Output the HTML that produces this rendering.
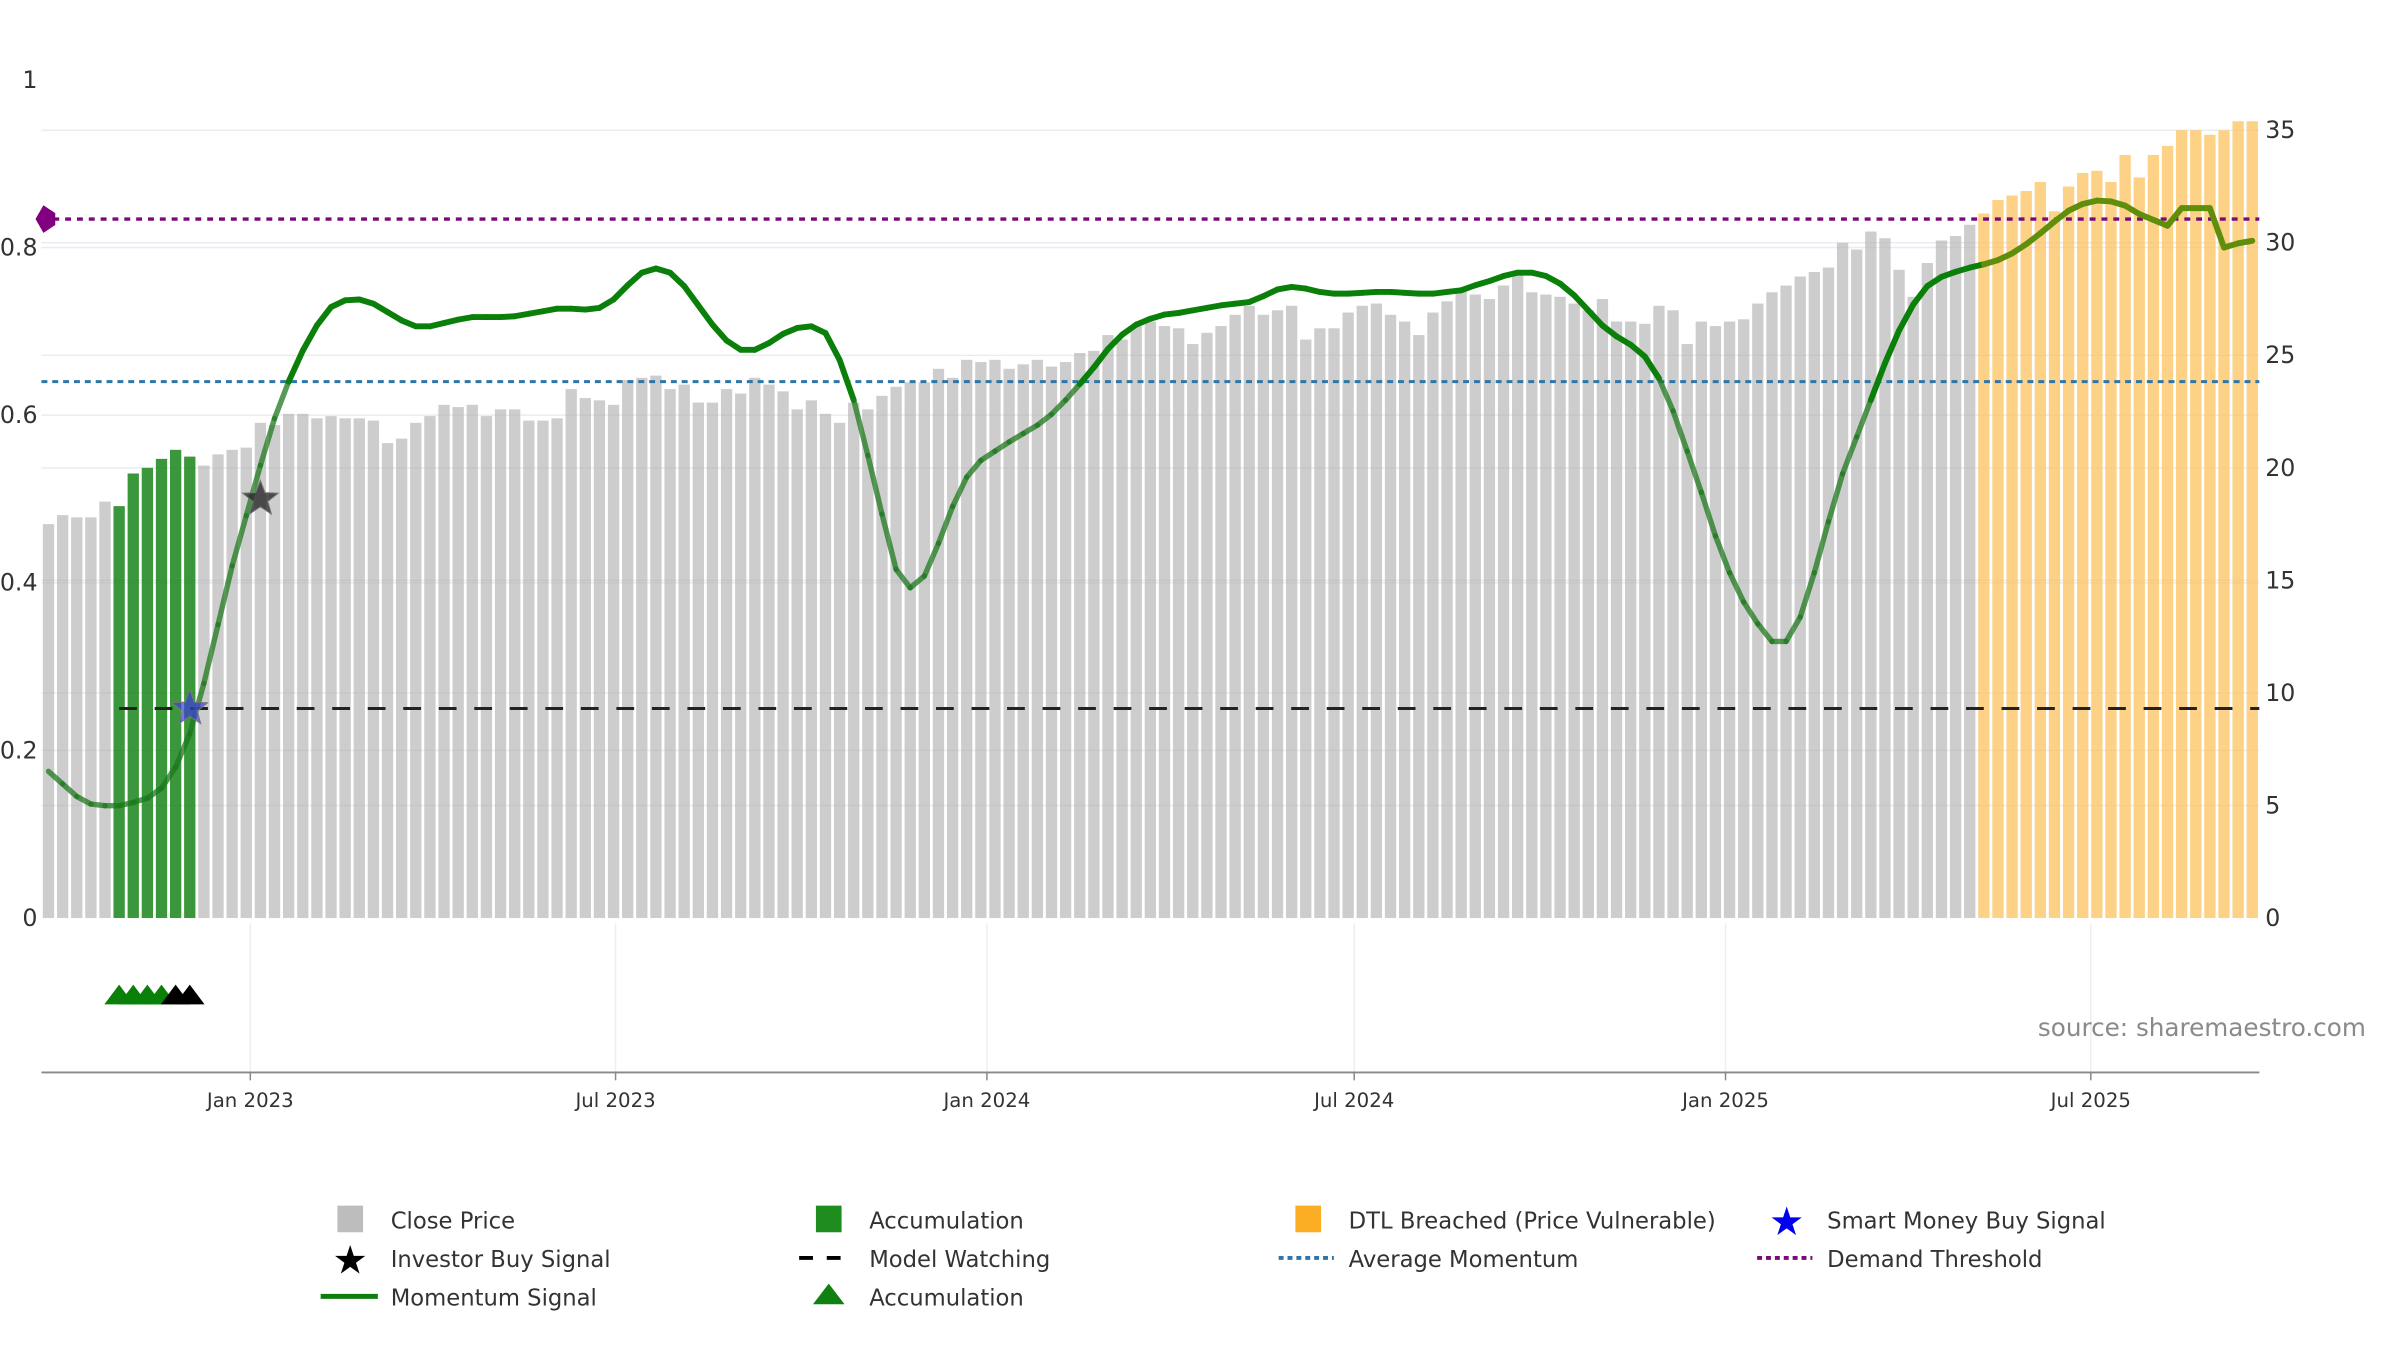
<!DOCTYPE html>
<html><head><meta charset="utf-8"><style>
html,body{margin:0;padding:0;background:#fff;}
svg{display:block;font-family:"DejaVu Sans","Liberation Sans",sans-serif;}
</style></head><body>
<svg id="chart" width="2400" height="1350" viewBox="0 0 2400 1350" xmlns="http://www.w3.org/2000/svg">
<g transform="scale(0.9866)">
<g id="grid"></g>
<g id="bars"></g>
<g id="lines"></g>
<g id="momentum"></g>
<g id="markers"></g>
<g id="axes"></g>
<text x="2398" y="1050" text-anchor="end" font-size="25" fill="#8a8a8a">source: sharemaestro.com</text>
<g id="legend">
 <rect x="342" y="1222" width="26" height="27" fill="#bdbdbd"/>
 <text x="396" y="1245" font-size="23" fill="#333">Close Price</text>
 <rect x="827" y="1222" width="26" height="27" fill="#1f8c1f"/>
 <text x="881" y="1245" font-size="23" fill="#333">Accumulation</text>
 <rect x="1313" y="1222" width="26" height="27" fill="#fbad23"/>
 <text x="1367" y="1245" font-size="23" fill="#333">DTL Breached (Price Vulnerable)</text>
 <text x="1811" y="1252" font-size="40" fill="#0000ee" text-anchor="middle">★</text>
 <text x="1852" y="1245" font-size="23" fill="#333">Smart Money Buy Signal</text>
 <text x="355" y="1291" font-size="40" fill="#000" text-anchor="middle">★</text>
 <text x="396" y="1284" font-size="23" fill="#333">Investor Buy Signal</text>
 <line x1="810" y1="1275" x2="866" y2="1275" stroke="#000" stroke-width="4" stroke-dasharray="14,14"/>
 <text x="881" y="1284" font-size="23" fill="#333">Model Watching</text>
 <line x1="1296" y1="1275" x2="1352" y2="1275" stroke="#2f76a8" stroke-width="4" stroke-dasharray="5,4"/>
 <text x="1367" y="1284" font-size="23" fill="#333">Average Momentum</text>
 <line x1="1781" y1="1275" x2="1837" y2="1275" stroke="#7a0a7a" stroke-width="4" stroke-dasharray="5,4"/>
 <text x="1852" y="1284" font-size="23" fill="#333">Demand Threshold</text>
 <line x1="325" y1="1314" x2="383" y2="1314" stroke="#107c10" stroke-width="5"/>
 <text x="396" y="1323" font-size="23" fill="#333">Momentum Signal</text>
 <polygon points="840,1301 824,1322 856,1322" fill="#108010"/>
 <text x="881" y="1323" font-size="23" fill="#333">Accumulation</text>
</g>
</g>
</svg>
<script>
const prices = [17.5,17.9,17.8,17.8,18.5,18.3,19.75,20.0,20.4,20.8,20.5,20.1,20.6,20.8,20.9,22.0,21.9,22.4,22.4,22.2,22.3,22.2,22.2,22.1,21.1,21.3,22.0,22.3,22.8,22.7,22.8,22.3,22.6,22.6,22.1,22.1,22.2,23.5,23.1,23.0,22.8,23.9,24.0,24.1,23.5,23.7,22.9,22.9,23.5,23.3,24.0,23.7,23.4,22.6,23.0,22.4,22.0,22.9,22.6,23.2,23.6,23.8,23.8,24.4,24.0,24.8,24.7,24.8,24.4,24.6,24.8,24.5,24.7,25.1,25.2,25.9,25.7,26.3,26.5,26.3,26.2,25.5,26.0,26.3,26.8,27.2,26.8,27.0,27.2,25.7,26.2,26.2,26.9,27.2,27.3,26.8,26.5,25.9,26.9,27.4,27.9,27.7,27.5,28.1,28.6,27.8,27.7,27.6,27.3,27.0,27.5,26.5,26.5,26.4,27.2,27.0,25.5,26.5,26.3,26.5,26.6,27.3,27.8,28.1,28.5,28.7,28.9,30.0,29.7,30.5,30.2,28.8,27.6,29.1,30.1,30.3,30.8,31.3,31.9,32.1,32.3,32.7,31.4,32.5,33.1,33.2,32.7,33.9,32.9,33.9,34.3,35.0,35.0,34.8,35.0,35.4,35.4];
const momentum = [0.175,0.16,0.145,0.136,0.134,0.134,0.138,0.143,0.155,0.18,0.22,0.28,0.35,0.42,0.48,0.54,0.596,0.64,0.677,0.707,0.729,0.737,0.738,0.733,0.723,0.713,0.706,0.706,0.71,0.714,0.717,0.717,0.717,0.718,0.721,0.724,0.727,0.727,0.726,0.728,0.738,0.755,0.77,0.775,0.77,0.754,0.731,0.708,0.689,0.678,0.678,0.686,0.697,0.704,0.706,0.698,0.666,0.618,0.552,0.482,0.416,0.394,0.408,0.447,0.491,0.526,0.546,0.557,0.568,0.578,0.588,0.601,0.618,0.637,0.657,0.679,0.696,0.708,0.715,0.72,0.722,0.725,0.728,0.731,0.733,0.735,0.742,0.75,0.753,0.751,0.747,0.745,0.745,0.746,0.747,0.747,0.746,0.745,0.745,0.747,0.749,0.755,0.76,0.766,0.77,0.77,0.766,0.757,0.743,0.725,0.707,0.694,0.684,0.67,0.644,0.605,0.557,0.508,0.456,0.412,0.377,0.351,0.33,0.33,0.359,0.412,0.473,0.53,0.574,0.618,0.662,0.701,0.732,0.754,0.765,0.771,0.776,0.78,0.785,0.793,0.804,0.817,0.831,0.844,0.852,0.856,0.855,0.85,0.84,0.833,0.826,0.847,0.847,0.847,0.8,0.805,0.808];
const accumulationBars = [5,6,7,8,9,10];
const dtlStart = 137;
const accTriGreen = [5,6,7,8];
const accTriBlack = [9,10];
const investorBuy = [15];
const investorBuyValue = [0.5];
const smartMoney = [10];
const smartMoneyValue = [0.25];
const avgMomentum = 0.64;
const demandThreshold = 0.834;
const modelWatching = 0.25;
const modelWatchStart = 5;
const leftTicks = [0,0.2,0.4,0.6,0.8,1];
const leftTickLabels = ["0","0.2","0.4","0.6","0.8","1"];
const rightTicks = [0,5,10,15,20,25,30,35];
const dateTicks = ["2023-01-01","2023-07-01","2024-01-01","2024-07-01","2025-01-01","2025-07-01"];
const dateTickLabels = ["Jan 2023","Jul 2023","Jan 2024","Jul 2024","Jan 2025","Jul 2025"];
const startDate = "2022-09-23";

const NS="http://www.w3.org/2000/svg";
const XL=42, XR=2290, Y0=930.5, STEP=(XR-XL)/prices.length;
const RMAX=35, YTOP_R=132;
function xIdx(i){return XL+(i+0.5)*STEP;}
function xDate(d){const days=(new Date(d)-new Date(startDate))/86400000;return xIdx(days/7);}
function yL(v){return Y0-v*849.5;}
function yR(p){return Y0-p*(Y0-YTOP_R)/RMAX;}
function mk(tag,attrs,parent){const e=document.createElementNS(NS,tag);for(const k in attrs)e.setAttribute(k,attrs[k]);parent.appendChild(e);return e;}
const grid=document.getElementById('grid'),bars=document.getElementById('bars'),lines=document.getElementById('lines'),mom=document.getElementById('momentum'),markers=document.getElementById('markers'),axes=document.getElementById('axes');

leftTicks.forEach((v,k)=>{
  if(v>0&&v<1){const g=mk('line',{x1:XL,x2:XR,y1:yL(v),y2:yL(v),stroke:'#e9ecf2','stroke-width':1.5},grid);
  
  }
  const t=mk('text',{x:38,y:yL(v)+8,'text-anchor':'end','font-size':24,fill:'#333'},axes);
  t.textContent=leftTickLabels[k];
  
  
});
rightTicks.forEach(p=>{
  if(p>0){const g=mk('line',{x1:XL,x2:XR,y1:yR(p),y2:yR(p),stroke:'#e9ecf2','stroke-width':1.5},grid);
  
  }
  const t=mk('text',{x:2296,y:yR(p)+8,'font-size':24,fill:'#333'},axes);
  t.textContent=String(p);
  
  
});
dateTicks.forEach((d,k)=>{
  const x=xDate(d);
  const g=mk('line',{x1:x,x2:x,y1:936,y2:1087,stroke:'#eceef2','stroke-width':1.5},grid);
  
  
  const tk=mk('line',{x1:x,x2:x,y1:1087,y2:1095,stroke:'#888','stroke-width':1.5},axes);
  
  
  const t=mk('text',{x:x,y:1122,'text-anchor':'middle','font-size':20,fill:'#333'},axes);
  t.textContent=dateTickLabels[k];
  
  
});
const ax=mk('line',{x1:XL,x2:XR,y1:1087,y2:1087,stroke:'#888','stroke-width':2},axes);



prices.forEach((p,i)=>{
  let fill='rgba(175,175,175,0.62)';
  if(accumulationBars.includes(i))fill='rgba(16,128,16,0.82)';
  else if(i>=dtlStart)fill='rgba(253,196,100,0.78)';
  const w=STEP*0.8;
  const r=mk('rect',{x:xIdx(i)-w/2,y:yR(p),width:w,height:Y0-yR(p),fill:fill},bars);
  
  
});

const dl=mk('line',{x1:XL,x2:XR,y1:yL(demandThreshold),y2:yL(demandThreshold),stroke:'#7a0a7a','stroke-width':3.5,'stroke-dasharray':'6,6'},lines);


const al=mk('line',{x1:XL,x2:XR,y1:yL(avgMomentum),y2:yL(avgMomentum),stroke:'#2f76a8','stroke-width':3,'stroke-dasharray':'6,5'},lines);


const ml=mk('line',{x1:xIdx(modelWatchStart),x2:XR,y1:yL(modelWatching),y2:yL(modelWatching),stroke:'#222','stroke-width':3,'stroke-dasharray':'18,18'},lines);


const dm=mk('polygon',{points:`${XL-6},${yL(demandThreshold)} ${XL+2},${yL(demandThreshold)-14} ${XL+14},${yL(demandThreshold)-6} ${XL+14},${yL(demandThreshold)+6} ${XL+2},${yL(demandThreshold)+14}`,fill:'#800080'},lines);



for(let i=0;i<momentum.length-1;i++){
  const low=(momentum[i]+momentum[i+1])/2<avgMomentum;
  let col=low?'rgba(30,120,30,0.75)':'#0a800a';
  if(i>=dtlStart)col='#5f8f0a';
  const s=mk('line',{x1:xIdx(i),y1:yL(momentum[i]),x2:xIdx(i+1),y2:yL(momentum[i+1]),stroke:col,'stroke-width':low?5.5:6,'stroke-linecap':'round'},mom);
  
  
}

function star(cx,cy,R,fill,name){
  let pts=[];for(let k=0;k<10;k++){const a=-Math.PI/2+k*Math.PI/5;const r=k%2?R*0.42:R;pts.push((cx+r*Math.cos(a)).toFixed(1)+','+(cy+r*Math.sin(a)).toFixed(1));}
  const s=mk('polygon',{points:pts.join(' '),fill:fill,stroke:'#777','stroke-width':1},markers);
  
  
}
investorBuy.forEach((i,k)=>star(xIdx(i),yL(investorBuyValue[k]),19,'rgba(40,40,40,0.8)','investor-buy-star'));
smartMoney.forEach((i,k)=>star(xIdx(i),yL(smartMoneyValue[k]),19,'rgba(60,60,220,0.7)','smart-money-star'));
function tri(i,fill){
  const x=xIdx(i),y=1008;
  const t=mk('polygon',{points:`${x},${y-10} ${x-15},${y+10} ${x+15},${y+10}`,fill:fill},markers);
  
  
}
accTriGreen.forEach(i=>tri(i,'#0a800a'));
accTriBlack.forEach(i=>tri(i,'#000'));
</script>
</body></html>
